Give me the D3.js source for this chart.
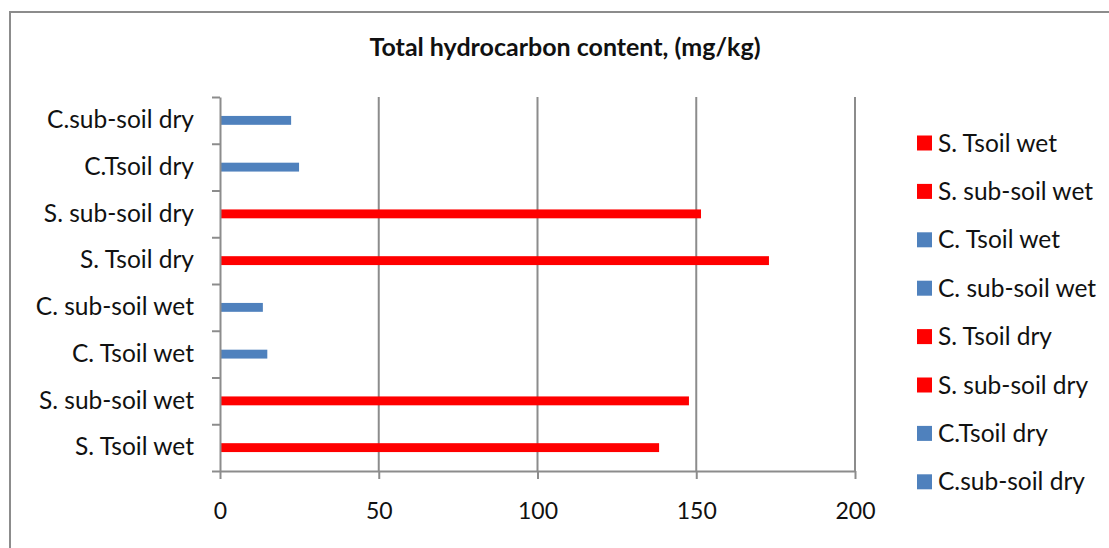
<!DOCTYPE html>
<html>
<head>
<meta charset="utf-8">
<script src="https://cdn.jsdelivr.net/npm/d3@7"></script>
<style>
  body { margin: 0; background: #fff; }
  text { font-family: Lato, "Open Sans", sans-serif; fill: #111; }
</style>
</head>
<body>
<div id="chart"></div>
<script>
// categories bottom -> top
var categories = ["S. Tsoil wet", "S. sub-soil wet", "C. Tsoil wet", "C. sub-soil wet",
                  "S. Tsoil dry", "S. sub-soil dry", "C.Tsoil dry", "C.sub-soil dry"];
var values = [138.3, 147.7, 14.9, 13.5, 172.9, 151.5, 24.9, 22.4];
var seriesColors = ["#FF0000", "#FF0000", "#4F81BD", "#4F81BD", "#FF0000", "#FF0000", "#4F81BD", "#4F81BD"];
var xTicks = [0, 50, 100, 150, 200];
var title = "Total hydrocarbon content, (mg/kg)";

var width = 1109, height = 548;
var plotL = 220, plotR = 855, plotT = 97, plotB = 471;

var svg = d3.select("#chart").append("svg")
  .attr("width", width)
  .attr("height", height);

// outer chart border (runs off right/bottom edge like the original)
svg.append("rect")
  .attr("x", 10).attr("y", 12)
  .attr("width", 1200).attr("height", 600)
  .attr("fill", "none")
  .attr("stroke", "#8c8c8c")
  .attr("stroke-width", 2);

svg.append("text")
  .attr("x", 565).attr("y", 56)
  .attr("text-anchor", "middle")
  .attr("font-weight", "bold")
  .attr("font-size", 25)
  .attr("letter-spacing", 0)
  .text(title);

var x = d3.scaleLinear().domain([0, 200]).range([plotL, plotR]);
var y = d3.scaleBand().domain(categories).range([plotB, plotT])
  .paddingInner(0.81).paddingOuter(0.405);
var yIdx = d3.scaleLinear().domain([0, categories.length]).range([plotB, plotT]);

// vertical gridlines
svg.append("g").selectAll("line")
  .data(xTicks.slice(1))
  .enter().append("line")
  .attr("x1", function(d){ return x(d); })
  .attr("x2", function(d){ return x(d); })
  .attr("y1", plotT).attr("y2", plotB)
  .attr("stroke", "#8c8c8c")
  .attr("stroke-width", 2);

// bars
svg.append("g").selectAll("rect")
  .data(values)
  .enter().append("rect")
  .attr("x", x(0))
  .attr("y", function(d, i){ return y(categories[i]); })
  .attr("width", function(d){ return x(d) - x(0); })
  .attr("height", y.bandwidth())
  .attr("fill", function(d, i){ return seriesColors[i]; });

// x axis
var xAxis = svg.append("g")
  .attr("transform", "translate(0," + plotB + ")")
  .call(d3.axisBottom(x).tickValues(xTicks).tickSize(8).tickPadding(24).tickSizeOuter(0));
xAxis.select(".domain").attr("stroke", "#8c8c8c").attr("stroke-width", 2);
xAxis.selectAll(".tick line").attr("stroke", "#8c8c8c").attr("stroke-width", 2);
xAxis.selectAll("text").attr("font-size", 23).attr("font-family", "Lato, sans-serif").attr("fill", "#111");

// y axis: tick marks on band boundaries
var yTickAxis = svg.append("g")
  .attr("transform", "translate(" + plotL + ",0)")
  .call(d3.axisLeft(yIdx).tickValues(d3.range(categories.length + 1)).tickSize(8).tickFormat("").tickSizeOuter(0));
yTickAxis.select(".domain").attr("stroke", "#8c8c8c").attr("stroke-width", 2);
yTickAxis.selectAll(".tick line").attr("stroke", "#8c8c8c").attr("stroke-width", 2);

// y axis labels at band centres
var yLab = svg.append("g")
  .attr("transform", "translate(" + plotL + ",0)")
  .call(d3.axisLeft(y).tickSize(0).tickPadding(26));
yLab.select(".domain").remove();
yLab.selectAll("text").attr("font-size", 24.5).attr("font-family", "Lato, sans-serif").attr("fill", "#111");

// legend (top -> bottom in category order)
var legend = svg.append("g").attr("transform", "translate(917,0)");
var item = legend.selectAll("g")
  .data(categories)
  .enter().append("g")
  .attr("transform", function(d, i){ return "translate(0," + (143 + i * 48.4) + ")"; });
item.append("rect")
  .attr("x", 0).attr("y", -7.5)
  .attr("width", 15).attr("height", 15)
  .attr("fill", function(d, i){ return seriesColors[i]; });
item.append("text")
  .attr("x", 21).attr("dy", "0.35em")
  .attr("font-size", 24.5)
  .text(function(d){ return d; });
</script>
</body>
</html>
